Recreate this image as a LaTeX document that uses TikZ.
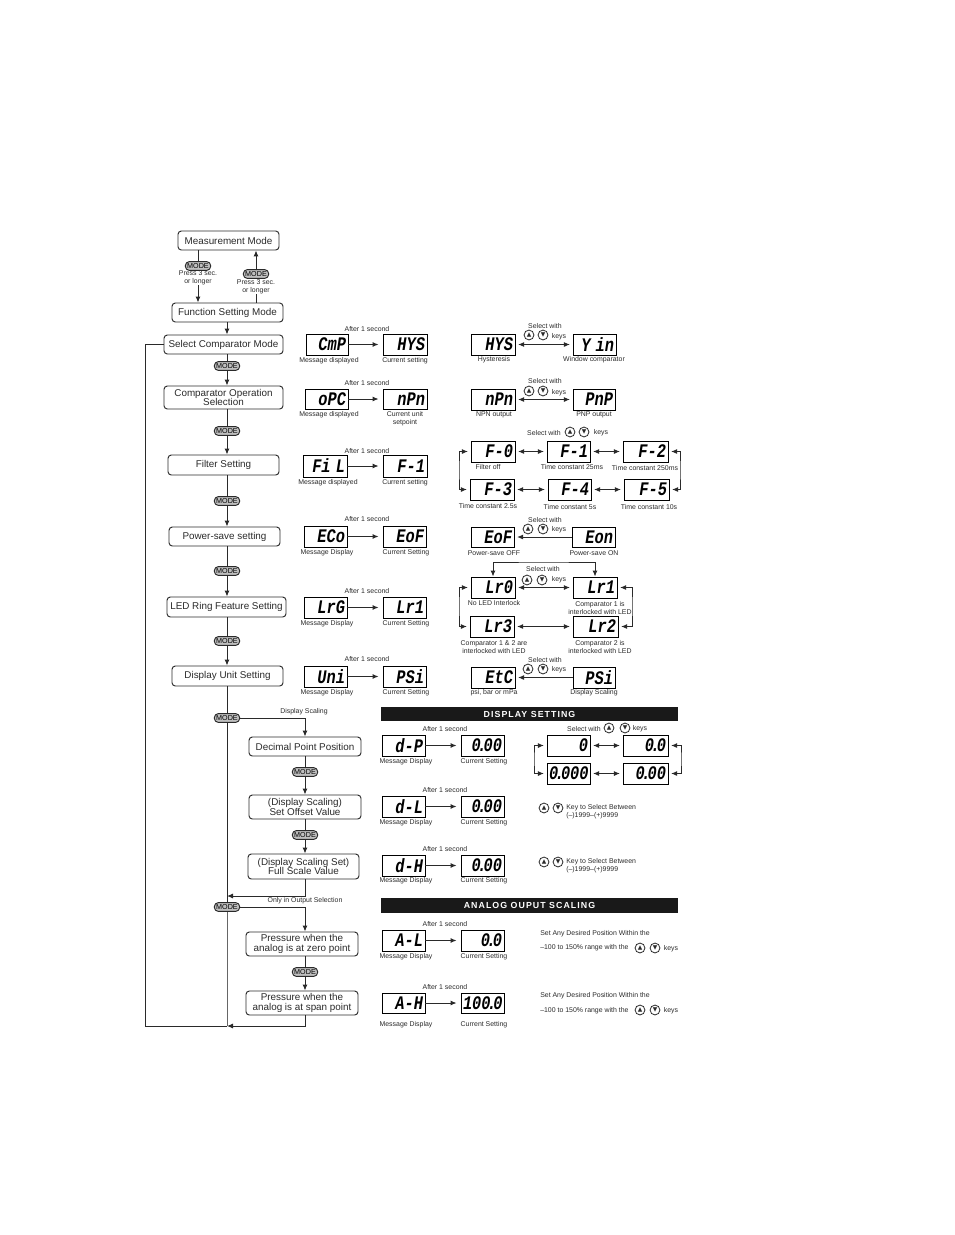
\documentclass[tikz,border=0pt]{standalone}
\usepackage{fontspec}
\usepackage{graphicx}
\setmainfont{Liberation Sans}
\newfontfamily\segfont{Liberation Mono}
\newfontfamily\symfont{DejaVu Sans}
\newfontfamily\hdrfont[LetterSpace=12]{Liberation Sans}
\usetikzlibrary{arrows.meta}
\definecolor{ink}{HTML}{2A2A2A}
\tikzset{
  lin/.style={draw=ink,line width=0.75pt},
  arr/.style={lin,-{Latex[length=4.5pt,width=3.8pt]}},
  dbl/.style={lin,{Latex[length=4.5pt,width=3.8pt]}-{Latex[length=4.5pt,width=3.8pt]},shorten >=2pt,shorten <=2pt},
  flowbox/.style={draw=ink,line width=0.7pt,rounded corners=2.5pt,inner sep=0pt,align=center,text=ink,font=\fontsize{7.4}{7.4}\selectfont},
  dispbox/.style={draw=black,line width=0.65pt,inner sep=0pt,align=right,text=black,font=\segfont\fontsize{11.5}{11.5}\selectfont\bfseries\itshape},
  pill/.style={draw=ink,fill=black!25,line width=0.7pt,rounded corners=3pt,inner sep=0pt,minimum width=19pt,minimum height=6.6pt,text=black,font=\fontsize{5.4}{5.4}\selectfont},
  lbl/.style={inner sep=0pt,align=center,text=ink,font=\fontsize{5.2}{5.8}\selectfont},
  lbll/.style={lbl,anchor=west,align=left},
  keyc/.style={draw=ink,circle,line width=0.6pt,inner sep=0pt,minimum size=7.4pt,text=ink,font=\symfont\fontsize{4.4}{4.4}\selectfont},
  hdr/.style={fill=black!90,inner sep=0pt,text=white,font=\hdrfont\bfseries\fontsize{6.6}{7}\selectfont}
}
\newcommand{\fbx}[6]{\node[flowbox,minimum width={(#4-#2)*0.75pt},minimum height={(#5-#3)*0.75pt}] (#1) at ({(#2+#4)/2},{(#3+#5)/2}) {#6};}
\newcommand{\dsp}[6]{\node[dispbox,minimum width={(#4-#2)*0.75pt},minimum height={(#5-#3)*0.75pt},text width={(#4-#2-4)*0.75pt}] (#1) at ({(#2+#4)/2},{(#3+#5)/2}) {\scalebox{1}[1.25]{#6}};}
\newcommand{\lab}[4]{\node[lbl] (#1) at (#2,#3) {#4};}
\newcommand{\labl}[4]{\node[lbll] (#1) at (#2,#3) {#4};}
\newcommand{\kk}[4]{\node[keyc] (#1u) at (#2,#4) {▲};\node[keyc] (#1d) at (#3,#4) {▼};}
\newcommand{\mo}[3]{\node[pill] (#1) at (#2,#3) {MODE};}
\newcommand{\dt}{\kern-2.4pt.\kern-2.4pt}
\begin{document}
\begin{tikzpicture}[x=0.75pt,y=-0.75pt]
\useasboundingbox (0,0) rectangle (954,1235);
% flow boxes
\fbx{meas}{178}{231}{279}{250}{Measurement Mode}
\fbx{func}{172}{303}{283}{322}{Function Setting Mode}
\fbx{sel}{164}{335}{283}{354}{Select Comparator Mode}
\fbx{comp}{164}{386}{283}{409}{Comparator Operation\\Selection}
\fbx{fil}{168}{455}{279}{475}{Filter Setting}
\fbx{pow}{169}{527}{280}{546}{Power-save setting}
\fbx{led}{167}{597}{286}{617}{LED Ring Feature Setting}
\fbx{uni}{172}{666}{283}{686}{Display Unit Setting}
\fbx{dec}{249}{737}{361}{756}{Decimal Point Position}
\fbx{off}{249}{795}{361}{819}{(Display Scaling)\\Set Offset Value}
\fbx{ful}{248}{854}{359}{879}{(Display Scaling Set)\\Full Scale Value}
\fbx{zer}{246}{932}{358}{956}{Pressure when the\\analog is at zero point}
\fbx{spa}{246}{991}{358}{1015}{Pressure when the\\analog is at span point}
% mode pills
\mo{ma}{198}{266}\mo{mb}{256}{274}
\mo{m1}{227}{366}\mo{m2}{227}{431}\mo{m3}{227}{501}\mo{m4}{227}{571}\mo{m5}{227}{641}
\mo{m6}{227}{718}\mo{m7}{305}{772}\mo{m8}{305}{835}\mo{m9}{227}{907}\mo{m10}{305}{972}
\lab{pa}{198}{278}{Press 3 sec.\\or longer}
\lab{pb}{256}{287}{Press 3 sec.\\or longer}
\lab{ds}{304}{712}{Display Scaling}
\lab{oo}{305}{901}{Only in Output Selection}
% flow connectors
\draw[lin] (ma |- meas.south) -- (ma.north);
\draw[arr] (pa.south) -- (ma |- func.north);
\draw[lin] (mb |- func.north) -- (pb.south);
\draw[arr] (mb.north) -- (mb |- meas.south);
\draw[arr] (m1 |- func.south) -- (m1 |- sel.north);
\draw[lin] (m1 |- sel.south) -- (m1.north);
\draw[arr] (m1.south) -- (m1 |- comp.north);
\draw[lin] (m2 |- comp.south) -- (m2.north);
\draw[arr] (m2.south) -- (m2 |- fil.north);
\draw[lin] (m3 |- fil.south) -- (m3.north);
\draw[arr] (m3.south) -- (m3 |- pow.north);
\draw[lin] (m4 |- pow.south) -- (m4.north);
\draw[arr] (m4.south) -- (m4 |- led.north);
\draw[lin] (m5 |- led.south) -- (m5.north);
\draw[arr] (m5.south) -- (m5 |- uni.north);
\draw[lin] (m6 |- uni.south) -- (m6.north);
\draw[lin] (m6.south) -- (m9.north);
\draw[arr] (m6.east) -| (dec.north);
\draw[lin] (m7 |- dec.south) -- (m7.north);
\draw[arr] (m7.south) -- (m7 |- off.north);
\draw[lin] (m8 |- off.south) -- (m8.north);
\draw[arr] (m8.south) -- (m8 |- ful.north);
\coordinate (mg) at (227,896);
\draw[arr] (m8 |- ful.south) |- (mg);
\draw[arr] (m9.east) -| (m10 |- zer.north);
\draw[lin] (m10 |- zer.south) -- (m10.north);
\draw[arr] (m10.south) -- (m10 |- spa.north);
\coordinate (e0) at (227,1026);
\coordinate (e1) at (145,1026);
\draw[lin,draw=black!60] (m9.south) -- (e0);
\draw[arr] (m10 |- spa.south) |- (e0);
\draw[lin] (e0) -- (e1) |- (sel.west);
% display rows: message -> setting
\dsp{a1}{306}{334}{348}{355}{CmP}\dsp{a2}{383}{334}{427}{355}{HYS}
\dsp{b1}{305}{389}{348}{409}{oPC}\dsp{b2}{383}{389}{427}{409}{nPn}
\dsp{c1}{303}{455}{347}{477}{Fi L}\dsp{c2}{383}{455}{427}{477}{F-1}
\dsp{d1}{304}{526}{347}{547}{ECo}\dsp{d2}{383}{526}{426}{547}{EoF}
\dsp{e1a}{304}{597}{347}{618}{LrG}\dsp{e2a}{383}{597}{426}{618}{Lr1}
\dsp{f1}{304}{666}{347}{687}{Uni}\dsp{f2}{383}{666}{426}{687}{PSi}
\dsp{g1}{382}{735}{425}{756}{d-P}\dsp{g2}{461}{735}{504}{756}{0\dt00}
\dsp{h1}{382}{796}{425}{817}{d-L}\dsp{h2}{461}{796}{504}{817}{0\dt00}
\dsp{i1}{382}{855}{425}{876}{d-H}\dsp{i2}{461}{855}{504}{876}{0\dt00}
\dsp{j1}{382}{930}{425}{951}{A-L}\dsp{j2}{461}{930}{504}{951}{0\dt0}
\dsp{k1}{382}{993}{425}{1013}{A-H}\dsp{k2}{461}{993}{504}{1013}{100\dt0}
\foreach \p/\q in {a1/a2,b1/b2,c1/c2,d1/d2,e1a/e2a,f1/f2,g1/g2,h1/h2,i1/i2,j1/j2,k1/k2}
  \draw[arr,shorten >=3pt] (\p.east) -- (\p.east -| \q.west);
% labels for those rows
\lab{ta}{367}{329}{After 1 second}\lab{tb}{367}{383}{After 1 second}\lab{tc}{367}{451}{After 1 second}
\lab{td}{367}{519}{After 1 second}\lab{te}{367}{591}{After 1 second}\lab{tf}{367}{659}{After 1 second}
\lab{tg}{445}{729}{After 1 second}\lab{th}{445}{790}{After 1 second}\lab{ti}{445}{849}{After 1 second}
\lab{tj}{445}{924}{After 1 second}\lab{tk}{445}{987}{After 1 second}
\lab{la1}{329}{361}{Message displayed}\lab{la2}{405}{361}{Current setting}
\lab{lb1}{329}{415}{Message displayed}\lab{lb2}{405}{419}{Current unit\\setpoint}
\lab{lc1}{328}{483}{Message displayed}\lab{lc2}{405}{483}{Current setting}
\lab{ld1}{327}{553}{Message Display}\lab{ld2}{406}{553}{Current Setting}
\lab{le1}{327}{624}{Message Display}\lab{le2}{406}{624}{Current Setting}
\lab{lf1}{327}{693}{Message Display}\lab{lf2}{406}{693}{Current Setting}
\lab{lg1}{406}{762}{Message Display}\lab{lg2}{484}{762}{Current Setting}
\lab{lh1}{406}{823}{Message Display}\lab{lh2}{484}{823}{Current Setting}
\lab{li1}{406}{881}{Message Display}\lab{li2}{484}{881}{Current Setting}
\lab{lj1}{406}{957}{Message Display}\lab{lj2}{484}{957}{Current Setting}
\lab{lk1}{406}{1025}{Message Display}\lab{lk2}{484}{1025}{Current Setting}
% right column: comparator
\dsp{r1a}{471}{334}{515}{355}{HYS}\dsp{r1b}{573}{334}{616}{355}{Y in}
\draw[dbl] (r1a.east) -- (r1a.east -| r1b.west);
\lab{s1}{545}{326}{Select with}\kk{k1k}{529}{543}{335}\lab{s1k}{559}{337}{keys}
\lab{n1a}{494}{360}{Hysteresis}\lab{n1b}{594}{360}{Window comparator}
% right column: output
\dsp{r2a}{471}{389}{515}{410}{nPn}\dsp{r2b}{573}{389}{615}{410}{PnP}
\draw[dbl] (r2a.east) -- (r2a.east -| r2b.west);
\lab{s2}{545}{381}{Select with}\kk{k2k}{529}{543}{391}\lab{s2k}{559}{393}{keys}
\lab{n2a}{494}{415}{NPN output}\lab{n2b}{594}{415}{PNP output}
% right column: filter
\dsp{f0}{471}{441}{515}{462}{F-0}\dsp{fa}{547}{441}{590}{462}{F-1}\dsp{fb}{623}{441}{668}{462}{F-2}
\dsp{fc}{470}{479}{514}{500}{F-3}\dsp{fd}{548}{479}{591}{500}{F-4}\dsp{fe}{624}{479}{669}{500}{F-5}
\draw[dbl] (f0.east) -- (f0.east -| fa.west);
\draw[dbl] (fa.east) -- (fa.east -| fb.west);
\draw[dbl] (fc.east) -- (fc.east -| fd.west);
\draw[dbl] (fd.east) -- (fd.east -| fe.west);
\coordinate (fl) at (459,470);\coordinate (fr) at (680,470);
\draw[dbl] (f0.west) -| (fl) |- (fc.west);
\draw[dbl] (fb.east) -| (fr) |- (fe.east);
\lab{s3}{544}{433}{Select with}\kk{k3k}{570}{584}{432}\lab{s3k}{601}{433}{keys}
\lab{n3a}{488}{467}{Filter off}\lab{n3b}{572}{467}{Time constant 25ms}\lab{n3c}{645}{468}{Time constant 250ms}
\lab{n3d}{488}{506}{Time constant 2.5s}\lab{n3e}{570}{507}{Time constant 5s}\lab{n3f}{649}{507}{Time constant 10s}
% right column: power save
\dsp{r4a}{471}{527}{514}{547}{EoF}\dsp{r4b}{572}{527}{615}{547}{Eon}
\draw[arr,shorten >=2pt] (r4b.west) -- (r4b.west -| r4a.east);
\lab{s4}{545}{520}{Select with}\kk{k4k}{528}{543}{529}\lab{s4k}{559}{530}{keys}
\lab{n4a}{494}{553}{Power-save OFF}\lab{n4b}{594}{553}{Power-save ON}
% right column: LED ring
\dsp{lr0}{471}{577}{515}{598}{Lr0}\dsp{lr1}{573}{577}{617}{598}{Lr1}
\dsp{lr3}{470}{616}{514}{637}{Lr3}\dsp{lr2}{573}{616}{618}{637}{Lr2}
\draw[dbl] (lr0.east) -- (lr0.east -| lr1.west);
\draw[dbl] (lr3.east) -- (lr3.east -| lr2.west);
\coordinate (tb) at (543,562);\coordinate (ll) at (459,606);\coordinate (lrr) at (632,606);
\draw[dbl,shorten >=0pt,shorten <=0pt] (lr0.north) |- (tb) -| (lr1.north);
\draw[dbl] (lr0.west) -| (ll) |- (lr3.west);
\draw[dbl] (lr1.east) -| (lrr) |- (lr2.east);
\lab{s5}{543}{569}{Select with}\kk{k5k}{527}{542}{580}\lab{s5k}{559}{580}{keys}
\lab{n5a}{494}{603}{No LED Interlock}\lab{n5b}{600}{608}{Comparator 1 is\\interlocked with LED}
\lab{n5c}{494}{647}{Comparator 1 \& 2 are\\interlocked with LED}\lab{n5d}{600}{647}{Comparator 2 is\\interlocked with LED}
% right column: units
\dsp{r6a}{471}{667}{515}{688}{EtC}\dsp{r6b}{573}{667}{615}{688}{PSi}
\draw[arr,shorten >=2pt] (r6b.west) -- (r6b.west -| r6a.east);
\lab{s6}{545}{660}{Select with}\kk{k6k}{528}{543}{669}\lab{s6k}{559}{670}{keys}
\lab{n6a}{494}{693}{psi, bar or mPa}\lab{n6b}{594}{693}{Display Scaling}
% headers
\node[hdr,minimum width={297*0.75pt},minimum height={14*0.75pt}] (h1) at (529.5,714) {DISPLAY SETTING};
\node[hdr,minimum width={297*0.75pt},minimum height={15*0.75pt}] (h2) at (529.5,905.5) {ANALOG OUPUT SCALING};
% display setting selection
\dsp{q0}{547}{735}{590}{756}{0}\dsp{qa}{623}{735}{668}{756}{0\dt0}
\dsp{qc}{547}{763}{590}{784}{0\dt000}\dsp{qb}{623}{763}{668}{784}{0\dt00}
\draw[dbl] (q0.east) -- (q0.east -| qa.west);
\draw[dbl] (qc.east) -- (qc.east -| qb.west);
\coordinate (ql) at (534,759);\coordinate (qr) at (681,759);
\draw[dbl] (q0.west) -| (ql) |- (qc.west);
\draw[dbl] (qa.east) -| (qr) |- (qb.east);
\lab{s7}{584}{729}{Select with}\kk{k7k}{609}{625}{728}\lab{s7k}{640}{729}{keys}
% key hints
\kk{k8k}{544}{558}{808}\labl{t8}{566}{812}{Key to Select Between\\(--)1999--(+)9999}
\kk{k9k}{544}{558}{862}\labl{t9}{566}{866}{Key to Select Between\\(--)1999--(+)9999}
\labl{t10}{540}{934}{Set Any Desired Position Within the}
\labl{t11}{540}{948}{--100 to 150\% range with the}\kk{k10k}{640}{655}{948}\lab{t11k}{671}{949}{keys}
\labl{t12}{540}{996}{Set Any Desired Position Within the}
\labl{t13}{540}{1011}{--100 to 150\% range with the}\kk{k11k}{640}{655}{1010}\lab{t13k}{671}{1011}{keys}
\end{tikzpicture}
\end{document}
